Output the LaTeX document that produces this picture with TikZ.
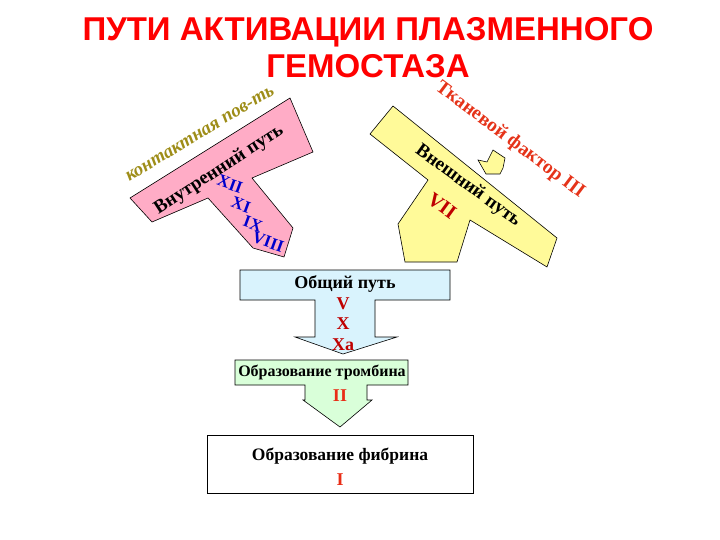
\documentclass[tikz,border=0pt]{standalone}
\usepackage{fontspec}
\setmainfont{Liberation Serif}
\newfontfamily\arial{Liberation Sans}
\begin{document}
\begin{tikzpicture}[x=1pt,y=-1pt,
  shp/.style={draw=black,line width=0.6pt},
  lbl/.style={font=\bfseries,inner sep=0pt},
  num/.style={font=\bfseries\fontsize{17}{17}\selectfont,inner sep=0pt}]
\useasboundingbox (0,0) rectangle (720,540);
\node[font=\arial\bfseries\fontsize{33}{37}\selectfont,text=red,align=center,inner sep=0pt] (title) at (368,48) {ПУТИ АКТИВАЦИИ ПЛАЗМЕННОГО\\ГЕМОСТАЗА};
% pink
\draw[shp,fill=pink!90!magenta] (130,198) -- (290,98) -- (313,152) -- (252,178) -- (293,228) -- (284,257) -- (253,248) -- (208,198) -- (152,222) -- cycle;
% yellow
\draw[shp,fill=yellow!40] (393,106) -- (557,238) -- (547,267) -- (470,220) -- (457,262) -- (405,262) -- (398,224) -- (428,180) -- (370,134) -- cycle;
% small arrow
\draw[shp,fill=yellow!40] (493,150) -- (505,158) -- (503,168) -- (500,174) -- (486,174) -- (478,160) -- (487,162) -- cycle;
\node[lbl,text=olive!70!brown,rotate=31,font=\bfseries\itshape\fontsize{19}{19}\selectfont] (kont) at (200,134) {контактная пов-ть};
\node[lbl,rotate=33,font=\bfseries\fontsize{19}{19}\selectfont] (vnutr) at (219,170) {Внутренний путь};
\node[num,text=blue!80!black,rotate=-20] (xii) at (230,184) {XII};
\node[num,text=blue!80!black,rotate=-20] (xi) at (241,205) {XI};
\node[num,text=blue!80!black,rotate=-20] (ix) at (253,224) {IX};
\node[num,text=blue!80!black,rotate=-20] (viii) at (268,242) {VIII};
\node[lbl,text=red!60!brown,rotate=-37,font=\bfseries\fontsize{19.5}{19.5}\selectfont] (tkan) at (510,140) {Тканевой фактор III};
\node[lbl,rotate=-36,font=\bfseries\fontsize{19}{19}\selectfont] (vnesh) at (468,186) {Внешний путь};
\node[num,text=red!75!black,rotate=-36,font=\bfseries\fontsize{20}{20}\selectfont] (vii) at (442,206) {VII};
% arrow 1
\draw[shp,fill=cyan!15] (240,270) -- (450,270) -- (450,300) -- (375,300) -- (375,337) -- (397,337) -- (343,354) -- (295,337) -- (315,337) -- (315,300) -- (240,300) -- cycle;
\node[lbl,font=\bfseries\fontsize{18}{18}\selectfont] (obsh) at (345,284) {Общий путь};
\node[lbl,text=red!75!black,font=\bfseries\fontsize{18}{18}\selectfont] (v) at (343,304) {V};
\node[lbl,text=red!75!black,font=\bfseries\fontsize{18}{18}\selectfont] (x) at (343,324) {X};
\node[lbl,text=red!75!black,font=\bfseries\fontsize{18}{18}\selectfont] (xa) at (343,345) {Xa};
% arrow 2
\draw[shp,fill=green!15] (235,360) -- (408,360) -- (408,385) -- (367,385) -- (367,400) -- (372,400) -- (340,427) -- (303,400) -- (305,400) -- (305,385) -- (235,385) -- cycle;
\node[lbl,font=\bfseries\fontsize{16}{16}\selectfont] (tromb) at (322,372) {Образование тромбина};
\node[lbl,text=red!65!brown,font=\bfseries\fontsize{18}{18}\selectfont] (ii) at (340,396) {II};
% box 3
\draw[shp] (207,435) rectangle (473,493);
\node[lbl,font=\bfseries\fontsize{17.5}{17.5}\selectfont] (fibr) at (340,456) {Образование фибрина};
\node[lbl,text=red!65!brown,font=\bfseries\fontsize{18}{18}\selectfont] (i) at (340,480) {I};
\end{tikzpicture}
\end{document}
